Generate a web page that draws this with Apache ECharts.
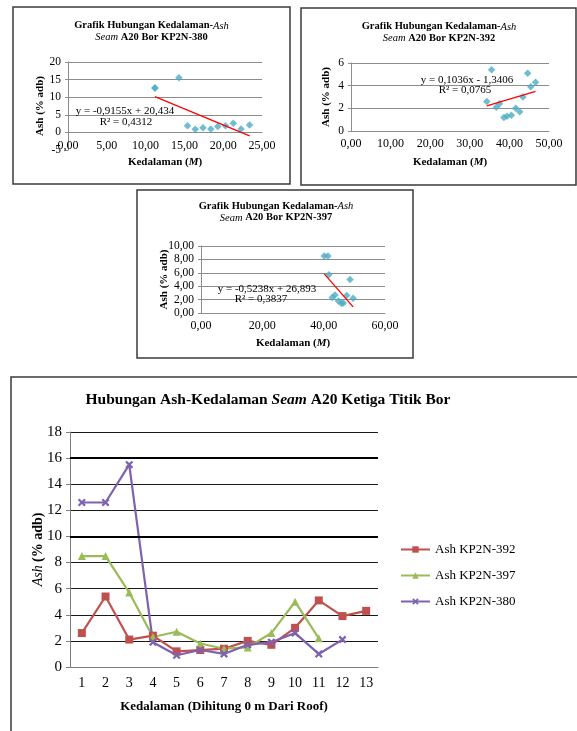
<!DOCTYPE html>
<html>
<head>
<meta charset="utf-8">
<script src="https://cdn.jsdelivr.net/npm/echarts@6/dist/echarts.min.js"></script>
<style>
  html, body { margin: 0; padding: 0; background: #fff; }
  #chart { width: 577px; height: 731px; }
</style>
</head>
<body>
<div id="chart"></div>
<script>
// Ash content (% adb) per sample, borehole by borehole
const ash392 = [2.6, 5.4, 2.1, 2.4, 1.2, 1.3, 1.4, 2.0, 1.7, 3.0, 5.1, 3.9, 4.3];
const ash397 = [8.5, 8.5, 5.7, 2.3, 2.7, 1.8, 1.4, 1.5, 2.6, 5.0, 2.2];
const ash380 = [12.6, 12.6, 15.5, 1.9, 0.9, 1.3, 1.0, 1.7, 1.9, 2.6, 1.0, 2.1];

// Sample depths (m)
const depth380 = [11.2, 11.2, 14.3, 15.4, 16.4, 17.4, 18.4, 19.3, 20.3, 21.3, 22.3, 23.4];
const depth392 = [34.3, 35.5, 36.7, 37.5, 38.6, 39.4, 40.5, 41.6, 42.6, 43.4, 44.6, 45.4, 46.6];
const depth397 = [40.2, 41.4, 41.7, 42.8, 43.7, 44.8, 45.8, 46.4, 47.5, 48.6, 49.6];

// Linear trend coefficients [slope, intercept, R²]
const fit380 = [-0.9155, 20.434, 0.4312];
const fit392 = [0.1036, -1.3406, 0.0765];
const fit397 = [-0.5238, 26.893, 0.3837];

// Sample order from the seam roof
const sampleNo = ['1', '2', '3', '4', '5', '6', '7', '8', '9', '10', '11', '12', '13'];
const seriesNames = ['Ash KP2N-392', 'Ash KP2N-397', 'Ash KP2N-380'];

const SERIF = '"Liberation Serif", "DejaVu Serif", serif';
const SCATTER_COLOR = '#4BACC6';
const GRID_GRAY = '#8c8c8c';

// Plot boxes of the four charts
const grids = [
  { left: 68, top: 62, width: 194, height: 88 },
  { left: 351, top: 63, width: 198, height: 68 },
  { left: 201, top: 246, width: 184, height: 67 },
  { left: 70, top: 432, width: 308, height: 235 }
];
// Vertical ranges of the three scatter charts [min, max, step]
const yRange380 = [-5, 20, 5];
const yRange392 = [0, 6, 2];
const yRange397 = [0, 10, 2];

const pairs = (xs, ys) => xs.map((x, i) => [x, ys[i]]);
const trend = (xs, fit) => {
  const lo = Math.min(...xs), hi = Math.max(...xs);
  return [[lo, fit[0] * lo + fit[1]], [hi, fit[0] * hi + fit[1]]];
};
const comma = (v, d) => v.toFixed(d).replace('.', ',');
const decimals = v => (String(v).split('.')[1] || '').length;
const eqText = fit => 'y = ' + (fit[0] < 0 ? '-' : '') + comma(Math.abs(fit[0]), decimals(fit[0])) + 'x ' +
  (fit[1] < 0 ? '- ' : '+ ') + comma(Math.abs(fit[1]), decimals(fit[1]));
const r2Text = fit => 'R² = ' + comma(fit[2], decimals(fit[2]));

const smallRich = {
  b: { fontFamily: SERIF, fontWeight: 'bold', fontSize: 10.5, fill: '#000' },
  i: { fontFamily: SERIF, fontStyle: 'italic', fontSize: 10.5, fill: '#000' }
};
const axisNameRich = {
  b: { fontFamily: SERIF, fontWeight: 'bold', fontSize: 11, color: '#000' },
  i: { fontFamily: SERIF, fontWeight: 'bold', fontStyle: 'italic', fontSize: 11, color: '#000' }
};

function smallTitle(cx, y, bore) {
  return {
    type: 'text', x: cx, y: y, z: 10,
    style: {
      text: '{b|Grafik Hubungan Kedalaman-}{i|Ash}\n{i|Seam}{b| A20 Bor ' + bore + '}',
      align: 'center', verticalAlign: 'top', lineHeight: 11.5, rich: smallRich,
      font: 'bold 10.5px ' + SERIF
    }
  };
}
function eqLabel(cx, y, text) {
  return {
    type: 'text', x: cx, y: y, z: 10,
    style: { text: text, align: 'center', verticalAlign: 'middle', font: '11px ' + SERIF, fill: '#000' }
  };
}
function frame(x, y, w, h) {
  return { type: 'rect', shape: { x: x, y: y, width: w, height: h }, z: 0,
    style: { fill: 'none', stroke: '#3a3a3a', lineWidth: 1.5 } };
}

// Horizontal depth axis; it crosses the vertical axis at zero ash
function smallX(gridIndex, max, interval, gap, yRange) {
  const zeroShift = yRange[0] < 0 ? -grids[gridIndex].height * (0 - yRange[0]) / (yRange[1] - yRange[0]) : 0;
  return {
    type: 'value', gridIndex: gridIndex, min: 0, max: max, interval: interval,
    offset: zeroShift,
    axisLine: { show: true, onZero: false, lineStyle: { color: GRID_GRAY } },
    axisTick: { show: false }, splitLine: { show: false },
    axisLabel: { fontFamily: SERIF, fontSize: 12, color: '#000', margin: 7, formatter: v => comma(v, 2) },
    name: '{b|Kedalaman (}{i|M}{b|)}', nameLocation: 'middle', nameGap: gap, nameMoveOverlap: false,
    nameTextStyle: { rich: axisNameRich }
  };
}
function smallY(gridIndex, range, fmt, gap, colors) {
  return {
    type: 'value', gridIndex: gridIndex, min: range[0], max: range[1], interval: range[2],
    axisLine: { show: true, onZero: false, lineStyle: { color: GRID_GRAY } },
    axisTick: { show: true, length: 3, lineStyle: { color: GRID_GRAY } },
    splitLine: { show: true, lineStyle: { color: colors || GRID_GRAY, width: 1 } },
    axisLabel: { fontFamily: SERIF, fontSize: 11.5, color: '#000', margin: 7, formatter: fmt },
    name: '{b|Ash (% adb)}', nameLocation: 'middle', nameGap: gap, nameMoveOverlap: false,
    nameTextStyle: { rich: axisNameRich }
  };
}

const chart = echarts.init(document.getElementById('chart'), null, { renderer: 'canvas' });

const option = {
  backgroundColor: '#fff',
  animation: false,
  grid: grids,
  xAxis: [
    smallX(0, 25, 5, 24, yRange380),
    smallX(1, 50, 10, 26, yRange392),
    smallX(2, 60, 20, 25, yRange397),
    {
      type: 'category', gridIndex: 3, data: sampleNo, boundaryGap: true,
      axisLine: { show: true, lineStyle: { color: '#7f7f7f' } },
      axisTick: { show: false },
      axisLabel: { fontFamily: SERIF, fontSize: 14, color: '#000', margin: 9 },
      name: 'Kedalaman (Dihitung 0 m Dari Roof)', nameLocation: 'middle', nameGap: 33, nameMoveOverlap: false,
      nameTextStyle: { fontFamily: SERIF, fontWeight: 'bold', fontSize: 13, color: '#000' }
    }
  ],
  yAxis: [
    // the line at the -5 floor is left out; the depth axis runs along zero
    smallY(0, yRange380, v => String(v), 22,
      ['rgba(0,0,0,0)', GRID_GRAY, GRID_GRAY, GRID_GRAY, GRID_GRAY, GRID_GRAY]),
    smallY(1, yRange392, v => String(v), 19),
    smallY(2, yRange397, v => comma(v, 2), 31),
    {
      type: 'value', gridIndex: 3, min: 0, max: 18, interval: 2,
      axisLine: { show: true, lineStyle: { color: '#7f7f7f' } },
      axisTick: { show: true, length: 4, lineStyle: { color: '#7f7f7f' } },
      splitLine: { show: true, lineStyle: { color: '#1a1a1a', width: 1 } },
      axisLabel: { fontFamily: SERIF, fontSize: 15, color: '#000', margin: 8 },
      name: '{i|Ash} {b|(% adb)}', nameLocation: 'middle', nameGap: 25, nameMoveOverlap: false,
      nameTextStyle: {
        rich: {
          i: { fontFamily: SERIF, fontStyle: 'italic', fontSize: 14, color: '#000' },
          b: { fontFamily: SERIF, fontWeight: 'bold', fontSize: 14, color: '#000' }
        }
      }
    }
  ],
  legend: {
    data: seriesNames, orient: 'vertical', left: 395, top: 538,
    itemWidth: 29, itemHeight: 8, itemGap: 13,
    textStyle: { fontFamily: SERIF, fontSize: 13, color: '#000' }
  },
  series: [
    // KP2N-380 scatter with trend
    { type: 'scatter', name: 'KP2N-380', xAxisIndex: 0, yAxisIndex: 0, data: pairs(depth380, ash380),
      symbol: 'diamond', symbolSize: 7.5, itemStyle: { color: SCATTER_COLOR }, z: 3 },
    { type: 'line', name: 'Linear KP2N-380', xAxisIndex: 0, yAxisIndex: 0, data: trend(depth380, fit380),
      symbol: 'none', lineStyle: { color: '#ff0000', width: 1.3 }, z: 4 },
    // KP2N-392 scatter with trend
    { type: 'scatter', name: 'KP2N-392', xAxisIndex: 1, yAxisIndex: 1, data: pairs(depth392, ash392),
      symbol: 'diamond', symbolSize: 7.5, itemStyle: { color: SCATTER_COLOR }, z: 3 },
    { type: 'line', name: 'Linear KP2N-392', xAxisIndex: 1, yAxisIndex: 1, data: trend(depth392, fit392),
      symbol: 'none', lineStyle: { color: '#ff0000', width: 1.3 }, z: 4 },
    // KP2N-397 scatter with trend
    { type: 'scatter', name: 'KP2N-397', xAxisIndex: 2, yAxisIndex: 2, data: pairs(depth397, ash397),
      symbol: 'diamond', symbolSize: 7.5, itemStyle: { color: SCATTER_COLOR }, z: 3 },
    { type: 'line', name: 'Linear KP2N-397', xAxisIndex: 2, yAxisIndex: 2, data: trend(depth397, fit397),
      symbol: 'none', lineStyle: { color: '#ff0000', width: 1.3 }, z: 4 },
    // Combined line chart
    { type: 'line', name: seriesNames[0], xAxisIndex: 3, yAxisIndex: 3, data: ash392,
      symbol: 'rect', symbolSize: 8, color: '#C0504D', lineStyle: { width: 2.2 },
      markLine: {
        silent: true, symbol: 'none', label: { show: false },
        lineStyle: { color: '#000', width: 2.2, type: 'solid' },
        data: [{ yAxis: 16 }, { yAxis: 10 }]
      } },
    { type: 'line', name: seriesNames[1], xAxisIndex: 3, yAxisIndex: 3, data: ash397,
      symbol: 'triangle', symbolSize: 8, color: '#9BBB59', lineStyle: { width: 2.2 } },
    { type: 'line', name: seriesNames[2], xAxisIndex: 3, yAxisIndex: 3, data: ash380,
      symbol: 'path://M2,0L5,3L8,0L10,2L7,5L10,8L8,10L5,7L2,10L0,8L3,5L0,2Z', symbolSize: 8,
      color: '#7e62b0', lineStyle: { width: 2.2 } }
  ],
  graphic: [
    frame(13, 7, 277, 177),
    frame(301, 8, 275, 177),
    frame(137, 190, 276, 168),
    frame(11, 377, 580, 360),
    smallTitle(151.5, 20, 'KP2N-380'),
    smallTitle(439, 21, 'KP2N-392'),
    smallTitle(276, 200.5, 'KP2N-397'),
    eqLabel(125, 111, eqText(fit380)),
    eqLabel(126, 122, r2Text(fit380)),
    eqLabel(467, 80, eqText(fit392)),
    eqLabel(465, 90, r2Text(fit392)),
    eqLabel(267, 289, eqText(fit397)),
    eqLabel(261, 299, r2Text(fit397)),
    {
      type: 'text', x: 268, y: 400, z: 10,
      style: {
        text: '{b|Hubungan Ash-Kedalaman }{i|Seam}{b| A20 Ketiga Titik Bor}',
        align: 'center', verticalAlign: 'middle', font: 'bold 15.5px ' + SERIF,
        rich: {
          b: { fontFamily: SERIF, fontWeight: 'bold', fontSize: 15.5, fill: '#000' },
          i: { fontFamily: SERIF, fontWeight: 'bold', fontStyle: 'italic', fontSize: 15.5, fill: '#000' }
        }
      }
    }
  ]
};

chart.setOption(option);
</script>
</body>
</html>
